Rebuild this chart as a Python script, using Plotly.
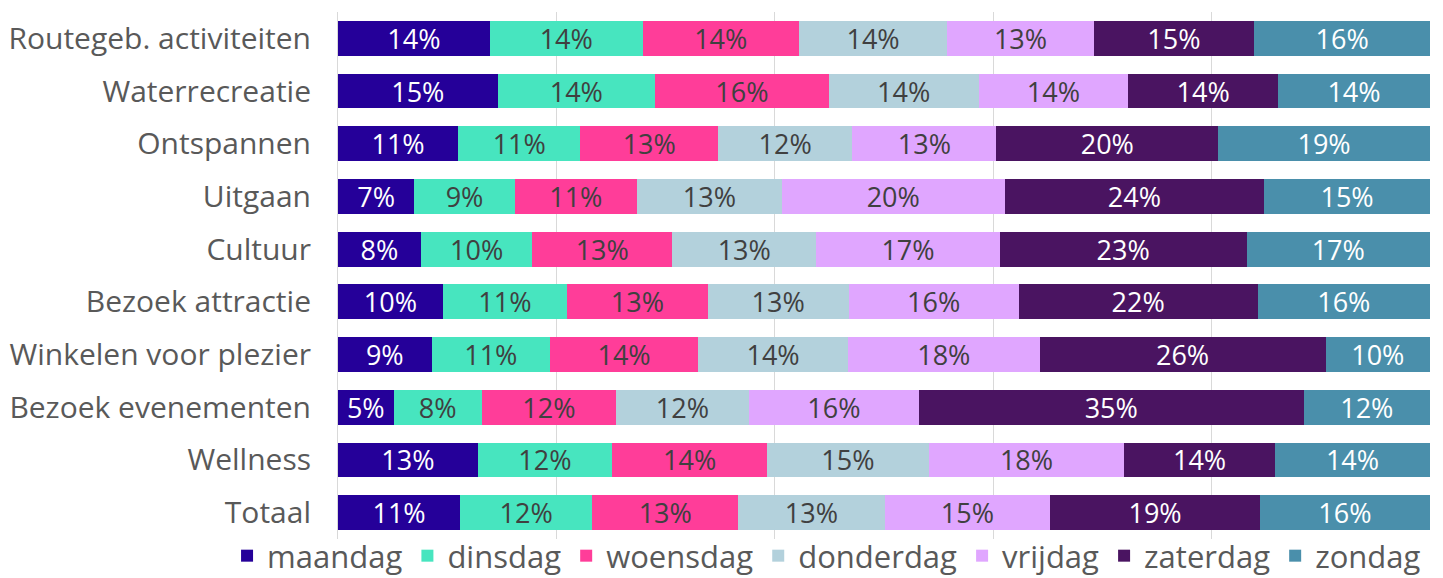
import plotly.graph_objects as go

categories = ["Routegeb. activiteiten", "Waterrecreatie", "Ontspannen", "Uitgaan", "Cultuur",
              "Bezoek attractie", "Winkelen voor plezier", "Bezoek evenementen", "Wellness", "Totaal"]

days = ["maandag", "dinsdag", "woensdag", "donderdag", "vrijdag", "zaterdag", "zondag"]

maandag   = [13.9, 14.6, 11.0, 7.0, 7.6, 9.6, 8.6, 5.1, 12.8, 11.2]
dinsdag   = [14.0, 14.4, 11.2, 9.2, 10.2, 11.4, 10.9, 8.1, 12.3, 12.1]
woensdag  = [14.3, 15.9, 12.6, 11.2, 12.8, 12.9, 13.6, 12.3, 14.2, 13.4]
donderdag = [13.6, 13.7, 12.3, 13.3, 13.2, 12.9, 13.8, 12.2, 14.8, 13.4]
vrijdag   = [13.4, 13.7, 13.2, 20.4, 16.8, 15.6, 17.6, 15.6, 17.9, 15.2]
zaterdag  = [14.7, 13.7, 20.3, 23.8, 22.6, 21.9, 26.3, 35.3, 13.8, 19.2]
zondag    = [16.1, 13.9, 19.4, 15.2, 16.8, 15.8, 9.6, 11.6, 14.2, 15.6]

series = [maandag, dinsdag, woensdag, donderdag, vrijdag, zaterdag, zondag]
colors = ["#250099", "#47E5BF", "#FF3D99", "#B3D1DC", "#E0A6FF", "#4A1461", "#4A8FAB"]
text_colors = ["#FFFFFF", "#404040", "#404040", "#404040", "#404040", "#FFFFFF", "#FFFFFF"]

FONT = "Century Gothic, Open Sans, sans-serif"

fig = go.Figure()
for name, vals, col, tcol in zip(days, series, colors, text_colors):
    fig.add_trace(go.Bar(
        y=categories, x=vals, name=name, orientation="h",
        marker=dict(color=col, line=dict(width=0)),
        text=[f"{round(v)}%" for v in vals],
        textposition="inside", insidetextanchor="middle", textangle=0,
        textfont=dict(color=tcol, size=27, family=FONT),
        hoverinfo="skip",
    ))

# page body has an 8px margin: compensate so the plot lands where the reference has it
fig.update_layout(
    barmode="stack", barnorm="percent", bargap=0.34,
    width=1435, height=570,
    margin=dict(l=330, r=13, t=4, b=39, autoexpand=False),
    paper_bgcolor="white", plot_bgcolor="white",
    font=dict(family=FONT, color="#595959", size=29),
    uniformtext=dict(minsize=27, mode="show"),
    showlegend=True,
    legend=dict(orientation="h", xref="paper", yref="paper",
                x=-0.1016, xanchor="left", y=-0.0323, yanchor="middle",
                traceorder="normal", font=dict(size=31, color="#595959"),
                itemwidth=30, tracegroupgap=0, bgcolor="rgba(0,0,0,0)"),
    xaxis=dict(range=[0, 100], tickvals=[0, 20, 40, 60, 80, 100], showticklabels=False,
               showgrid=True, gridcolor="#D9D9D9", gridwidth=1, zeroline=False, showline=False),
    yaxis=dict(autorange="reversed", showline=True, linecolor="#D9D9D9", linewidth=1,
               automargin=False, ticks="", ticklabelstandoff=20,
               tickfont=dict(size=30, color="#595959")),
)

fig.write_html("out.html")
